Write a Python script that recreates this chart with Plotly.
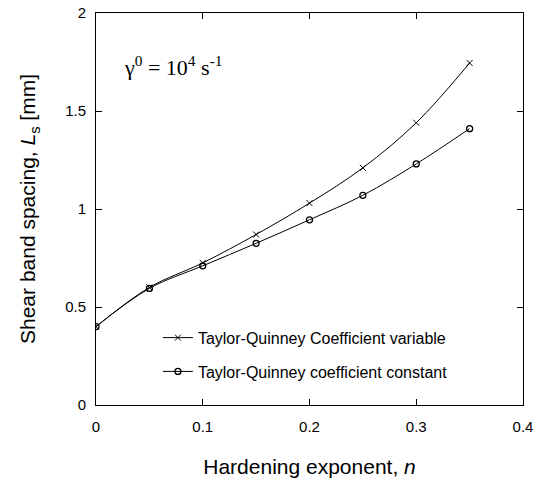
import plotly.graph_objects as go

n_vals = [0.0, 0.05, 0.10, 0.15, 0.20, 0.25, 0.30, 0.35]
ls_variable = [0.40, 0.60, 0.725, 0.87, 1.03, 1.21, 1.44, 1.745]
ls_constant = [0.40, 0.595, 0.71, 0.825, 0.945, 1.07, 1.23, 1.41]
x_ticks = [0, 0.1, 0.2, 0.3, 0.4]
y_ticks = [0, 0.5, 1, 1.5, 2]

FONT = "Liberation Sans, Arial, sans-serif"

fig = go.Figure()
fig.add_trace(go.Scatter(
    x=n_vals, y=ls_variable, mode="lines+markers",
    name="Taylor-Quinney Coefficient variable", legendgroup="a",
    line=dict(color="black", width=1, shape="spline"),
    marker=dict(symbol="x-thin", size=6, line=dict(color="black", width=1), color="black"),
))
fig.add_trace(go.Scatter(
    x=n_vals, y=ls_constant, mode="lines+markers",
    name="Taylor-Quinney coefficient constant", legendgroup="b",
    line=dict(color="black", width=1, shape="spline"),
    marker=dict(symbol="circle-open", size=6, line=dict(color="black", width=1.3), color="black"),
))

axis_common = dict(
    showline=True, linecolor="black", linewidth=1, mirror="ticks",
    ticks="inside", ticklen=6, tickcolor="black", tickwidth=1,
    showgrid=False, zeroline=False, automargin=False,
    tickfont=dict(family=FONT, size=15, color="black"),
)

fig.update_xaxes(range=[0, 0.4], tickvals=x_ticks, ticktext=[str(v) for v in x_ticks],
                 ticklabelstandoff=8,
                 title=dict(text="Hardening exponent, <i>n</i>", standoff=25,
                            font=dict(family=FONT, size=21, color="black")),
                 **axis_common)
fig.update_yaxes(range=[0, 2], tickvals=y_ticks, ticktext=[str(v) for v in y_ticks],
                 ticklabelstandoff=6,
                 title=dict(text="Shear band spacing, <i>L</i><sub>s</sub> [mm]", standoff=23,
                            font=dict(family=FONT, size=21, color="black")),
                 **axis_common)

fig.add_annotation(
    x=0.062, y=0.865, xref="paper", yref="paper", xanchor="left", yanchor="middle",
    text="γ<sup>0</sup> = 10<sup>4</sup> s<sup>-1</sup>", showarrow=False,
    font=dict(family="Liberation Serif, Times New Roman, serif", size=22, color="black"),
)

fig.update_layout(
    width=536, height=489,
    margin=dict(l=96, r=13, t=13, b=84, autoexpand=False),
    paper_bgcolor="white", plot_bgcolor="white",
    showlegend=True,
    legend=dict(x=0.145, y=0.215, xanchor="left", yanchor="top",
                bgcolor="rgba(0,0,0,0)", tracegroupgap=10,
                font=dict(family=FONT, size=16, color="black")),
)

fig.write_html("out.html")
